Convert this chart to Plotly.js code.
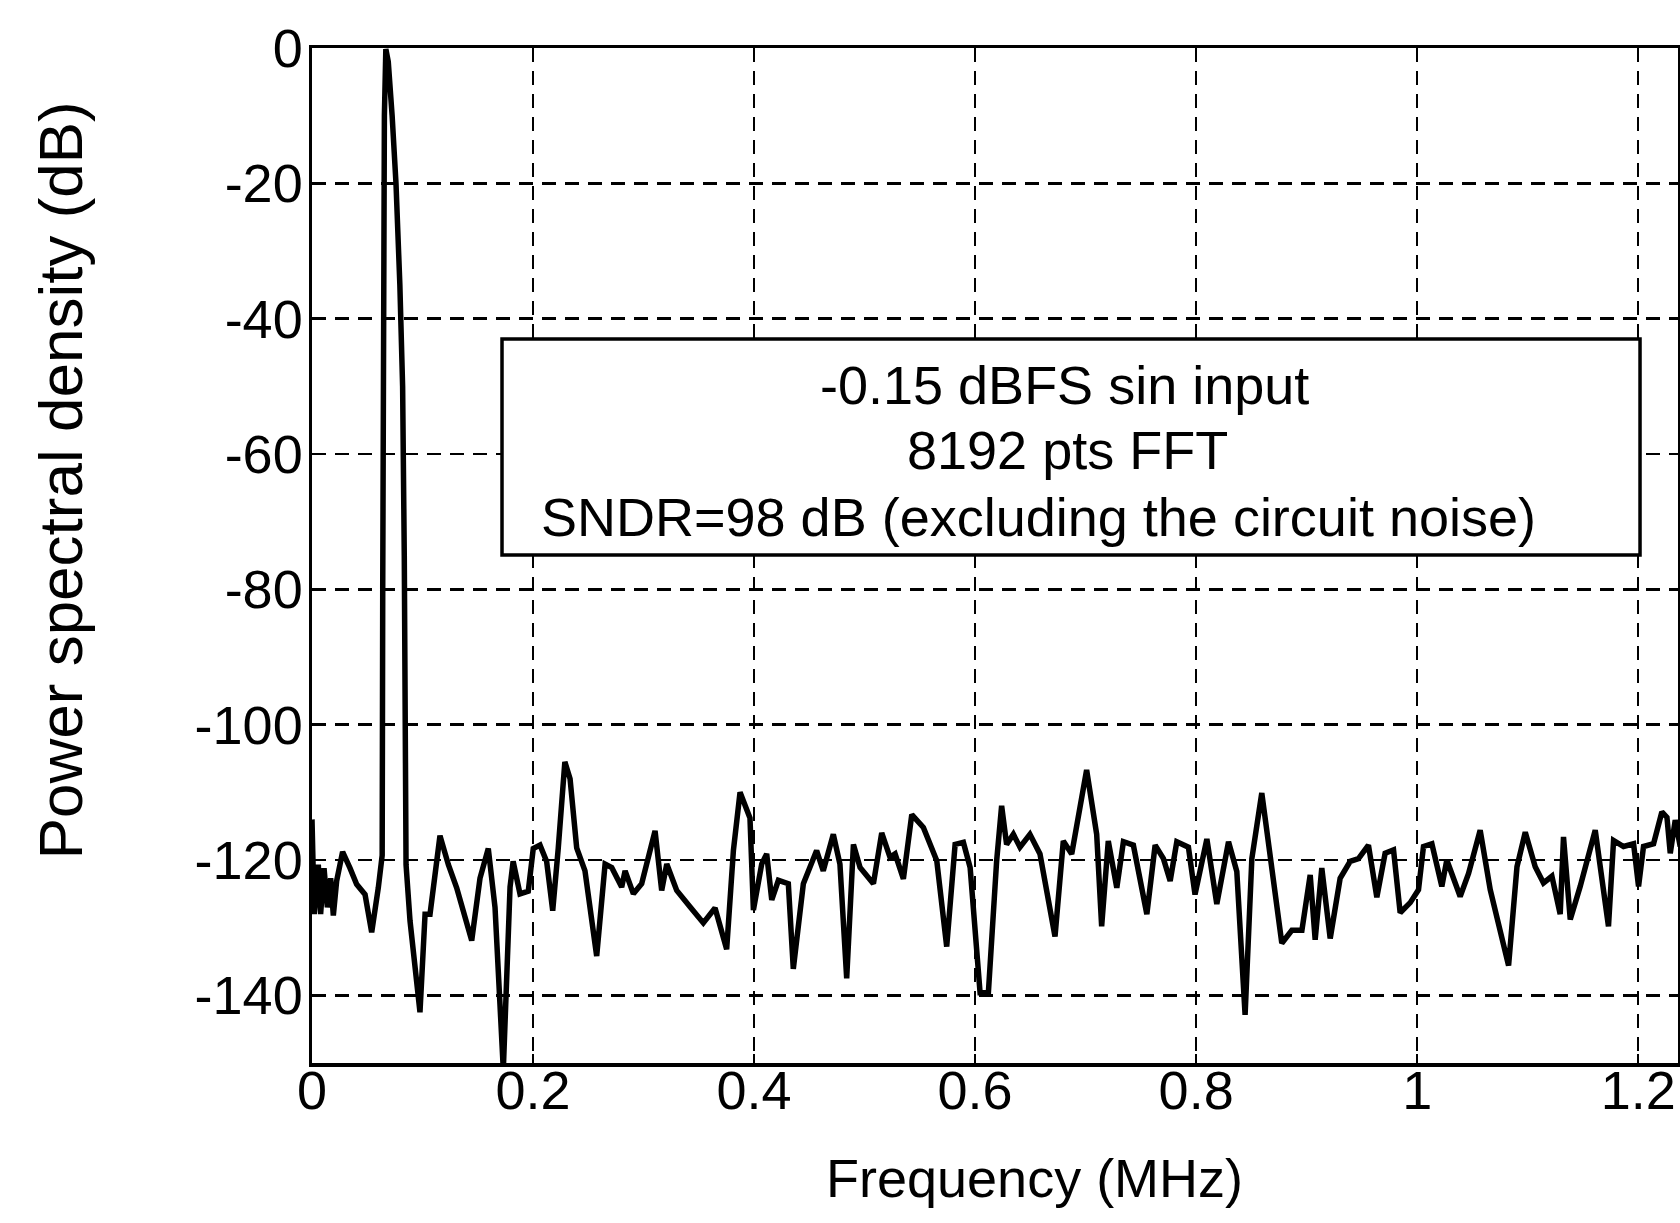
<!DOCTYPE html>
<html>
<head>
<meta charset="utf-8">
<script src="https://cdn.plot.ly/plotly-3.0.1.min.js"></script>
<style>html,body{margin:0;padding:0;background:#fff;}#chart{width:1680px;height:1223px;}</style>
</head>
<body>
<div id="chart"></div>
<script>
// Frequency (MHz)
const freq = [
0, 0.002, 0.0057, 0.0078, 0.0109, 0.0139, 0.0169, 0.0193, 0.0223, 0.0277, 0.0344, 0.0404, 0.0480, 0.0540, 0.0600, 0.0635,
0.064, 0.0645, 0.0655, 0.0668, 0.069, 0.0725, 0.076, 0.0795, 0.082, 0.0835, 0.0845, 0.0851,
0.0887, 0.0977, 0.1023, 0.1068, 0.1158, 0.1234, 0.1309, 0.1384, 0.1445, 0.152, 0.1595, 0.1656, 0.1731, 0.1792, 0.182,
0.1882, 0.1957, 0.2002, 0.2063, 0.2123, 0.2178, 0.2228, 0.2288, 0.2335, 0.2395, 0.2470, 0.2576, 0.2652, 0.2712, 0.2802,
0.2833, 0.2908, 0.2983, 0.3104, 0.3164, 0.321, 0.33, 0.342, 0.3541, 0.3647, 0.3752, 0.3813, 0.3873, 0.3963, 0.3994,
0.4069, 0.4114, 0.4160, 0.422, 0.431, 0.4355, 0.4446, 0.4566, 0.4626, 0.4717, 0.4777, 0.4838, 0.4899, 0.4959, 0.5080,
0.5155, 0.5230, 0.5276, 0.5351, 0.5427, 0.5532, 0.5653, 0.5743, 0.5819, 0.5894, 0.5955, 0.6045, 0.612, 0.6195, 0.624,
0.6285, 0.6346, 0.6406, 0.6496, 0.6587, 0.6723, 0.6798, 0.6874, 0.7009, 0.71, 0.7145, 0.7205, 0.7282, 0.7342, 0.7432,
0.7554, 0.7629, 0.7704, 0.7765, 0.7825, 0.793, 0.799, 0.8097, 0.8187, 0.8293, 0.8368, 0.8443, 0.8504, 0.8594, 0.867,
0.8775, 0.8866, 0.8957, 0.9032, 0.9077, 0.9137, 0.9213, 0.9303, 0.9394, 0.9469, 0.9559, 0.9635, 0.9710, 0.9786, 0.9846,
0.9937, 1.0012, 1.0057, 1.0133, 1.0223, 1.0268, 1.0389, 1.0465, 1.0570, 1.0661, 1.0827, 1.0903, 1.0978, 1.1068, 1.1143,
1.1219, 1.1294, 1.1324, 1.1385, 1.1475, 1.1611, 1.1671, 1.1731, 1.1777, 1.1867, 1.1958, 1.2003, 1.2048, 1.2139, 1.2214,
1.226, 1.2290, 1.2335, 1.238
];
// Power spectral density (dB)
const psd = [
-114, -128, -120.7, -128, -121.2, -127, -122.7, -128.2, -123.1, -118.8, -121.2, -123.6, -125.1, -130.7, -124.1, -119.3,
-80, -40, -10, -0.15, -2, -10, -20, -35, -50, -75, -100, -120.7,
-129, -142.5, -128, -128, -116.4, -120.7, -124.1, -128.5, -131.9, -122.7, -118.3, -127, -151, -124, -120.2,
-125, -124.6, -118.3, -117.8, -120.2, -127.5, -118.3, -105.5, -108, -118.2, -121.6, -134.2, -120.6, -121.1, -124,
-121.6, -125, -123.5, -115.7, -124.5, -120.6, -124.5, -126.9, -129.3, -127.1, -133.2, -118.6, -110, -113.8, -127.4,
-120.6, -119.1, -125.9, -123, -123.5, -136.1, -123.5, -118.6, -121.6, -116.2, -120.6, -137.5, -117.7, -121.1, -123.5,
-116, -119.6, -119.1, -122.8, -113.3, -115.2, -120.1, -132.8, -117.7, -117.4, -121.1, -139.6, -139.6, -120.1, -112,
-117.7, -116.2, -118.1, -116.2, -119.1, -131.3, -117.2, -119.1, -106.7, -116.2, -129.8, -117.2, -124.1, -117.3, -117.8,
-128, -117.8, -119.8, -123.1, -117.3, -118.1, -125.1, -116.9, -126.5, -117.3, -121.7, -142.9, -119.8, -110.1, -119.3,
-132.3, -130.4, -130.4, -122.2, -131.8, -121.2, -131.6, -122.7, -120.2, -119.8, -117.8, -125.5, -119, -118.5, -127.8,
-126.3, -124.4, -118, -117.6, -123.9, -120, -125.4, -122, -115.6, -124.4, -135.6, -121, -115.9, -121, -123.4,
-122.4, -128, -116.6, -128.8, -123.9, -115.6, -122.4, -129.8, -117.1, -118, -117.6, -123.9, -118, -117.6, -112.9,
-113.7, -119, -114.1, -118
];
const xTickVals = [0, 0.2, 0.4, 0.6, 0.8, 1, 1.2];
const xTickText = ["0", "0.2", "0.4", "0.6", "0.8", "1", "1.2"];
const yTickVals = [-140, -120, -100, -80, -60, -40, -20, 0];
const yTickText = ["-140", "-120", "-100", "-80", "-60", "-40", "-20", "0"];
const boxLines = ["-0.15 dBFS sin input", "8192 pts FFT", "SNDR=98 dB (excluding the circuit noise)"];
const xTitle = "Frequency (MHz)";
const yTitle = "Power spectral density (dB)";

const FONT = "Liberation Sans, Arial, Helvetica, sans-serif";

const trace = {
  x: freq, y: psd, type: "scatter", mode: "lines",
  line: {color: "#000", width: 5.5},
  hoverinfo: "skip"
};

const axisCommon = {
  showline: true, linecolor: "#000", linewidth: 3.5, mirror: "ticks",
  ticks: "inside", ticklen: 9, tickwidth: 2, tickcolor: "#000",
  showgrid: true, gridcolor: "#000", gridwidth: 2.5, griddash: "14px,9px",
  zeroline: false,
  tickfont: {family: FONT, size: 54, color: "#000"}
};

const layout = {
  width: 1680, height: 1223,
  margin: {l: 312, r: 2, t: 48, b: 160},
  paper_bgcolor: "#fff", plot_bgcolor: "#fff",
  showlegend: false,
  font: {family: FONT, color: "#000"},
  xaxis: Object.assign({}, axisCommon, {
    range: [0, 1.236], tickmode: "array", tickvals: xTickVals, ticktext: xTickText,
    ticklabelstandoff: -22
  }),
  yaxis: Object.assign({}, axisCommon, {
    range: [-150, 0], tickmode: "array", tickvals: yTickVals, ticktext: yTickText,
    ticklabelstandoff: -5
  }),
  shapes: [{
    type: "rect", xref: "paper", yref: "paper",
    x0: 0.1391, x1: 0.9722, y0: 0.5005, y1: 0.7133,
    line: {color: "#000", width: 3.5}, fillcolor: "#fff", layer: "above"
  }],
  annotations: [
    {text: boxLines[0], xref: "paper", yref: "paper", x: 0.5512, y: 0.668, xanchor: "center", yanchor: "middle",
     showarrow: false, font: {family: FONT, size: 54, color: "#000"}},
    {text: boxLines[1], xref: "paper", yref: "paper", x: 0.5534, y: 0.604, xanchor: "center", yanchor: "middle",
     showarrow: false, font: {family: FONT, size: 54, color: "#000"}},
    {text: boxLines[2], xref: "paper", yref: "paper", x: 0.5322, y: 0.538, xanchor: "center", yanchor: "middle",
     showarrow: false, font: {family: FONT, size: 54, color: "#000"}},
    {text: xTitle, xref: "paper", yref: "paper", x: 0.5286, y: -0.113, xanchor: "center", yanchor: "middle",
     showarrow: false, font: {family: FONT, size: 54, color: "#000"}},
    {text: yTitle, xref: "paper", yref: "paper", x: -0.1835, y: 0.5744, xanchor: "center", yanchor: "middle",
     textangle: -90, showarrow: false, font: {family: FONT, size: 62, color: "#000"}}
  ]
};

Plotly.newPlot("chart", [trace], layout, {displayModeBar: false, staticPlot: true});
</script>
</body>
</html>
